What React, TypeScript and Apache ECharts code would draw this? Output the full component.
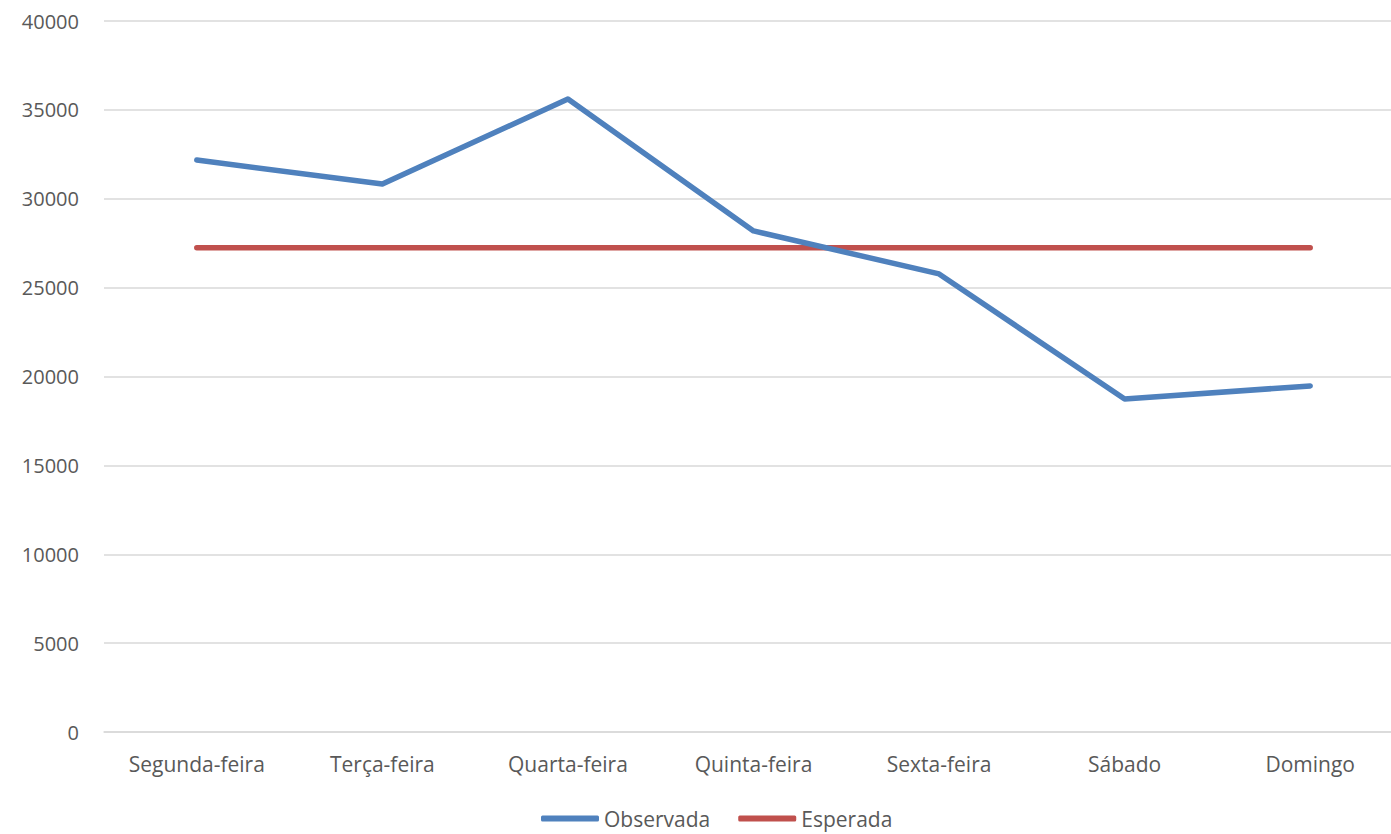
import React, { useEffect, useRef } from "react";
import * as echarts from "echarts";

const categories = ["Segunda-feira", "Terça-feira", "Quarta-feira", "Quinta-feira", "Sexta-feira", "Sábado", "Domingo"];
const observada = [32180, 30830, 35610, 28190, 25770, 18730, 19470];
const esperada = [27250, 27250, 27250, 27250, 27250, 27250, 27250];

export default function App() {
  const ref = useRef<HTMLDivElement>(null);
  useEffect(() => {
    const chart = echarts.init(ref.current!, null, { renderer: "svg" });
    const font = "Open Sans";
    chart.setOption({
      animation: false,
      backgroundColor: "#ffffff",
      grid: { left: 104, right: 0, top: 21, bottom: 102, containLabel: false },
      xAxis: {
        type: "category",
        data: categories,
        boundaryGap: true,
        axisLine: { show: true, lineStyle: { color: "#D9D9D9", width: 1.5 } },
        axisTick: { show: false },
        axisLabel: { color: "#595959", fontFamily: font, fontSize: 21, margin: 21, interval: 0 },
      },
      yAxis: {
        type: "value",
        min: 0,
        max: 40000,
        interval: 5000,
        axisLine: { show: false },
        axisTick: { show: false },
        axisLabel: { color: "#595959", fontFamily: font, fontSize: 20, margin: 25, formatter: (v: number) => String(v) },
        splitLine: { lineStyle: { color: "#D9D9D9", width: 1.5 } },
      },
      legend: {
        bottom: 0,
        left: 536,
        icon: "roundRect",
        itemWidth: 58,
        itemHeight: 6,
        itemGap: 28,
        textStyle: { color: "#595959", fontFamily: font, fontSize: 21 },
        data: ["Observada", "Esperada"],
      },
      series: [
        {
          name: "Observada",
          type: "line",
          data: observada,
          symbol: "none",
          lineStyle: { color: "#4F81BD", width: 5.5, cap: "round", join: "round" },
          itemStyle: { color: "#4F81BD" },
        },
        {
          name: "Esperada",
          type: "line",
          data: esperada,
          symbol: "none",
          z: 1,
          lineStyle: { color: "#C0504D", width: 5.5, cap: "round" },
          itemStyle: { color: "#C0504D" },
        },
      ],
    });
    return () => chart.dispose();
  }, []);
  return (
    <div style={{ position: "absolute", left: 0, top: 0, width: 1391, height: 834, overflow: "hidden" }}>
      <div ref={ref} style={{ position: "absolute", left: 0, top: 0, width: 1403, height: 834 }} />
    </div>
  );
}
